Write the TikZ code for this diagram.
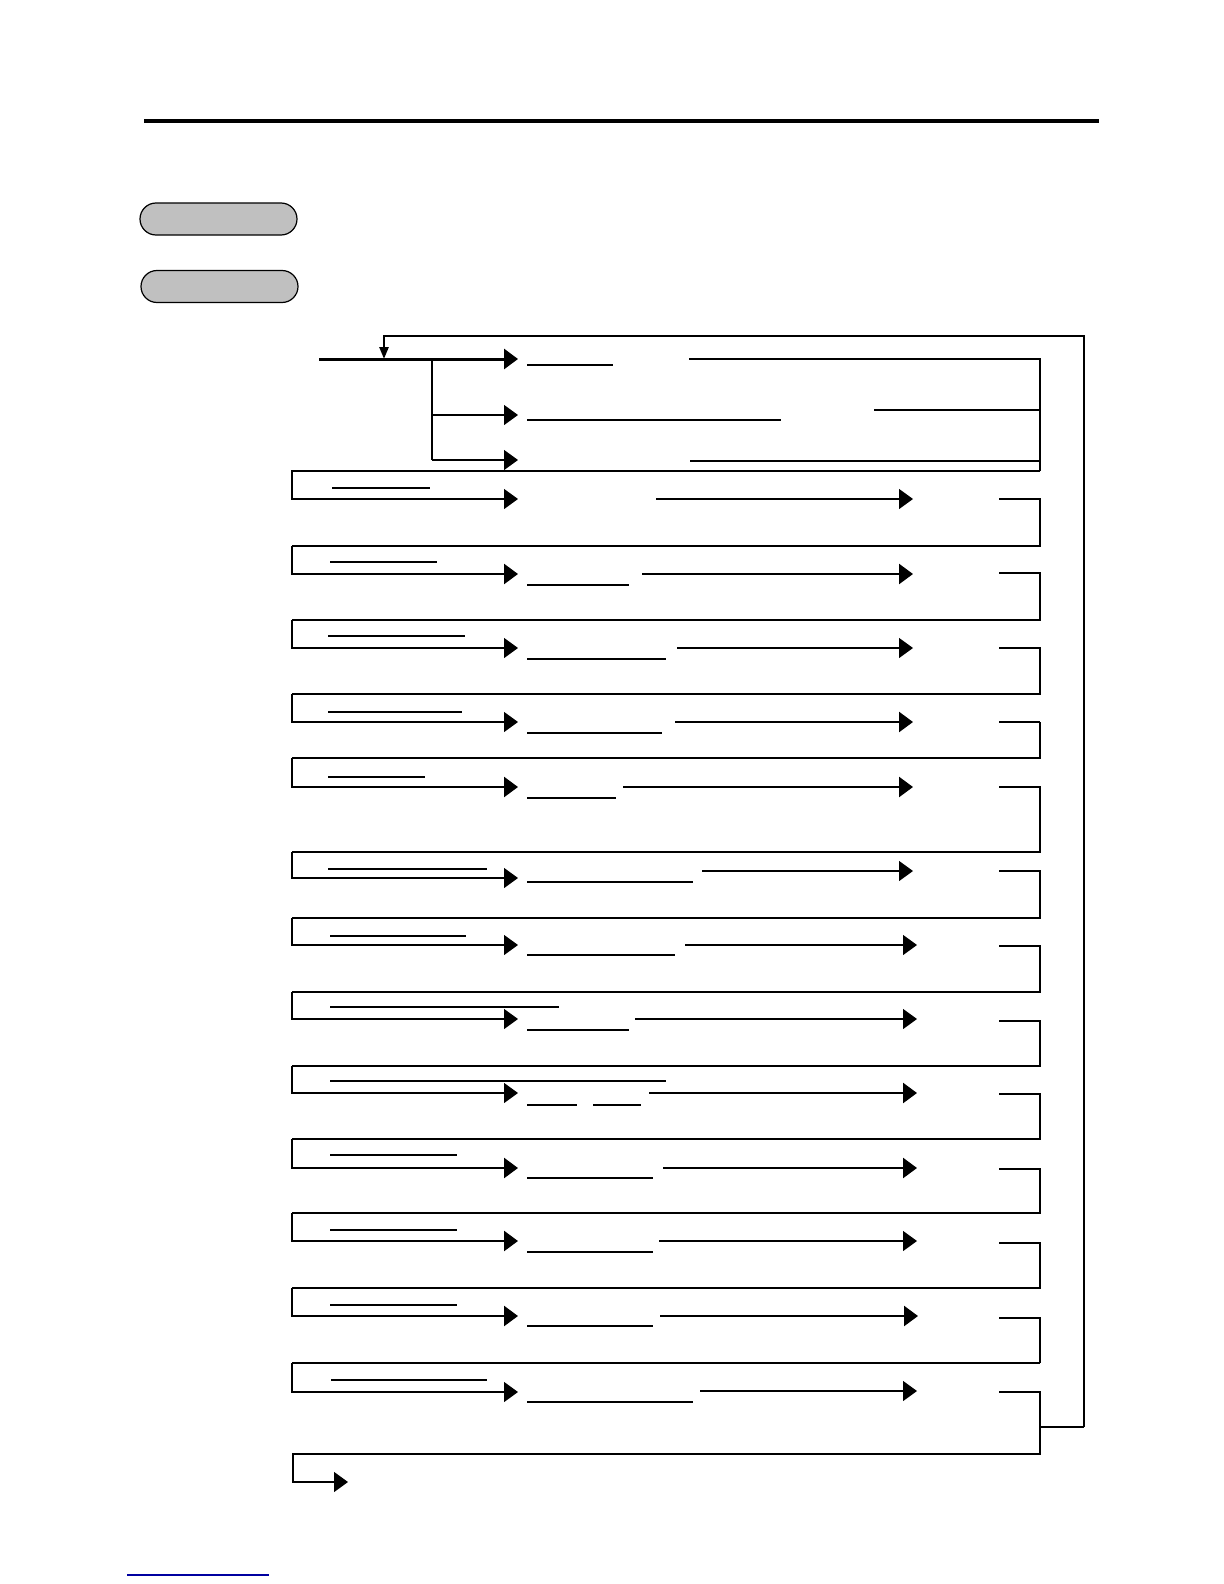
\documentclass[tikz,border=0pt]{standalone}
\usetikzlibrary{arrows.meta}
\definecolor{pillgray}{RGB}{192,192,192}
\definecolor{linkblue}{RGB}{0,0,160}
\tikzset{
  thinln/.style={line width=0.65pt},
  thickln/.style={line width=1.25pt},
  bigarrow/.style={-{Triangle[length=7pt,width=10pt]}},
  smallarrow/.style={-{Triangle[length=6pt,width=4.5pt]}},
  pill/.style={draw, line width=0.6pt, fill=pillgray, rounded corners=8pt,
    minimum width=78.5pt, minimum height=16pt, inner sep=0pt}
}
\begin{document}
\begin{tikzpicture}[x=0.5pt,y=-0.5pt]
  \useasboundingbox (0,0) rectangle (1224,1584);

  \draw[line width=2pt] (144,121) -- (1099,121);
  \node[pill] (menuA) at (218.5,219) {};
  \node[pill] (menuB) at (219.5,286.5) {};

  \draw[line width=1.5pt, bigarrow] (319,359) -- (518,359);
  \draw[thickln] (432,359) -- (432,460);
  \draw[thinln, bigarrow] (432,415) -- (518,415);
  \draw[thinln, bigarrow] (432,460) -- (518,460);
  \draw[thinln] (527,365) -- (613,365);
  \draw[thickln] (689,359) -- (1040,359) -- (1040,471);
  \draw[thinln] (527,420) -- (781,420);
  \draw[thinln] (874,410) -- (1040,410);
  \draw[thickln] (690,461) -- (1040,461);
  \draw[thinln, bigarrow] (1040,471) -- (292,471) -- (292,499) -- (518,499);

  \draw[thinln] (332,488) -- (430,488);
  \draw[thinln, bigarrow] (656,499) -- (913,499);
  \draw[thinln] (999,499) -- (1040,499) -- (1040,546) -- (292,546);
  \draw[thickln, bigarrow] (292,546) -- (292,574) -- (518,574);

  \draw[thinln] (330,562) -- (437,562);
  \draw[thickln] (527,585) -- (629,585);
  \draw[thickln, bigarrow] (642,574) -- (913,574);
  \draw[thickln] (999,573) -- (1040,573) -- (1040,620) -- (292,620);
  \draw[thinln, bigarrow] (292,620) -- (292,648) -- (518,648);

  \draw[thinln] (328,636) -- (465,636);
  \draw[thinln] (527,659) -- (666,659);
  \draw[thinln, bigarrow] (677,648) -- (913,648);
  \draw[thinln] (999,648) -- (1040,648) -- (1040,694) -- (292,694);
  \draw[thinln, bigarrow] (292,694) -- (292,722) -- (518,722);

  \draw[thinln] (328,712) -- (462,712);
  \draw[thinln] (527,733) -- (662,733);
  \draw[thickln, bigarrow] (675,722) -- (913,722);
  \draw[thickln] (999,722) -- (1040,722);
  \draw[thinln] (1040,722) -- (1040,758) -- (292,758);
  \draw[thickln, bigarrow] (292,758) -- (292,787) -- (518,787);

  \draw[thinln] (328,777) -- (425,777);
  \draw[thinln] (527,798) -- (616,798);
  \draw[thickln, bigarrow] (623,787) -- (913,787);
  \draw[thinln] (999,787) -- (1040,787) -- (1040,852) -- (292,852);
  \draw[thinln, bigarrow] (292,852) -- (292,878) -- (518,878);

  \draw[thinln] (328,869) -- (487,869);
  \draw[thinln] (527,882) -- (693,882);
  \draw[thinln, bigarrow] (702,871) -- (913,871);
  \draw[thickln] (999,871) -- (1040,871) -- (1040,918) -- (292,918);
  \draw[thinln, bigarrow] (292,918) -- (292,945) -- (518,945);

  \draw[thinln] (330,936) -- (466,936);
  \draw[thinln] (527,955) -- (675,955);
  \draw[thinln, bigarrow] (685,945) -- (917,945);
  \draw[thinln] (999,946) -- (1040,946) -- (1040,992) -- (292,992);
  \draw[thinln, bigarrow] (292,992) -- (292,1019) -- (518,1019);

  \draw[thinln] (330,1007) -- (559,1007);
  \draw[thickln] (527,1030) -- (629,1030);
  \draw[thinln, bigarrow] (635,1019) -- (917,1019);
  \draw[thinln] (999,1021) -- (1040,1021) -- (1040,1066) -- (292,1066);
  \draw[thinln, bigarrow] (292,1066) -- (292,1093) -- (518,1093);

  \draw[thinln] (330,1081) -- (666,1081);
  \draw[thickln] (527,1105) -- (577,1105);
  \draw[thickln] (593,1105) -- (641,1105);
  \draw[thickln, bigarrow] (649,1093) -- (917,1093);
  \draw[thinln] (999,1094) -- (1040,1094) -- (1040,1139) -- (292,1139);
  \draw[thickln, bigarrow] (292,1139) -- (292,1168) -- (518,1168);

  \draw[thinln] (330,1155) -- (457,1155);
  \draw[thinln] (527,1178) -- (653,1178);
  \draw[thickln, bigarrow] (663,1168) -- (917,1168);
  \draw[thinln] (999,1169) -- (1040,1169) -- (1040,1213) -- (292,1213);
  \draw[thickln, bigarrow] (292,1213) -- (292,1241) -- (518,1241);

  \draw[thinln] (330,1230) -- (457,1230);
  \draw[thinln] (527,1252) -- (653,1252);
  \draw[thinln, bigarrow] (659,1241) -- (917,1241);
  \draw[thinln] (999,1243) -- (1040,1243) -- (1040,1288) -- (292,1288);
  \draw[thickln, bigarrow] (292,1288) -- (292,1316) -- (518,1316);

  \draw[thinln] (330,1305) -- (457,1305);
  \draw[thickln] (527,1326) -- (653,1326);
  \draw[thickln, bigarrow] (660,1316) -- (918,1316);
  \draw[thinln] (999,1318) -- (1040,1318) -- (1040,1363);
  \draw[thickln] (1040,1363) -- (292,1363);
  \draw[thinln, bigarrow] (292,1363) -- (292,1392) -- (518,1392);

  \draw[thinln] (331,1380) -- (487,1380);
  \draw[thinln] (527,1402) -- (693,1402);
  \draw[thinln, bigarrow] (700,1391) -- (917,1391);
  \draw[thinln, bigarrow] (999,1392) -- (1040,1392) -- (1040,1454) -- (293,1454) -- (293,1482) -- (348,1482);

  \draw[thinln] (1040,1427) -- (1084,1427);
  \draw[thickln, smallarrow] (1084,1427) -- (1084,336) -- (384,336) -- (384,359);

  \draw[linkblue, line width=0.8pt] (127,1575) -- (269,1575);
\end{tikzpicture}
\end{document}
